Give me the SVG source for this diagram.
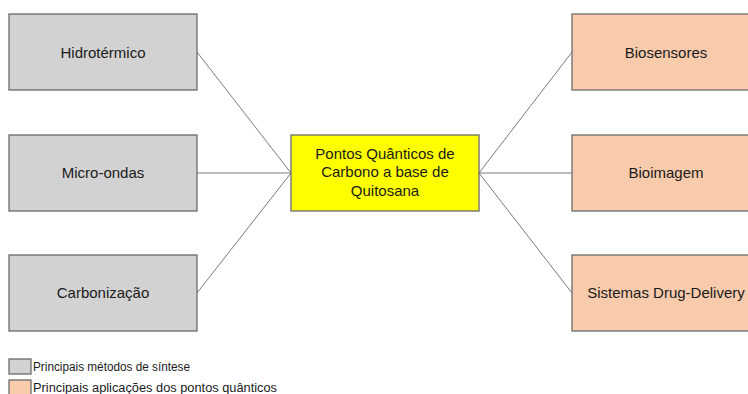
<svg xmlns="http://www.w3.org/2000/svg" width="748" height="394" viewBox="0 0 748 394">
<style>
.box{stroke:#6b6b6b;stroke-width:1.3}
.gray{fill:#d2d2d2}
.orange{fill:#f8cbad}
.yellow{fill:#ffff00}
.lbl{font-family:"Liberation Sans",Arial,sans-serif;font-size:15px;fill:#1a1a1a;text-anchor:middle}
.leg{font-family:"Liberation Sans",Arial,sans-serif;font-size:12px;fill:#1a1a1a}
.conn line{stroke:#7a7a7a;stroke-width:1}
</style>
<rect width="748" height="394" fill="#ffffff"/>
<g id="connectors" class="conn">
<line x1="197" y1="52" x2="291" y2="173"/>
<line x1="197" y1="173" x2="291" y2="173"/>
<line x1="197" y1="293" x2="291" y2="173"/>
<line x1="479" y1="173" x2="572" y2="52"/>
<line x1="479" y1="173" x2="572" y2="173"/>
<line x1="479" y1="173" x2="572" y2="293"/>
</g>
<g id="hidrotermico"><rect class="box gray" x="9" y="14" width="188" height="76"/><text class="lbl" x="103" y="58">Hidrotérmico</text></g>
<g id="microondas"><rect class="box gray" x="9" y="135" width="188" height="76"/><text class="lbl" x="103" y="178">Micro-ondas</text></g>
<g id="carbonizacao"><rect class="box gray" x="9" y="255" width="188" height="76"/><text class="lbl" x="103" y="298">Carbonização</text></g>
<g id="central"><rect class="box yellow" x="291" y="135" width="188" height="76"/>
<text class="lbl" x="385" y="159">Pontos Quânticos de</text>
<text class="lbl" x="385" y="177">Carbono a base de</text>
<text class="lbl" x="385" y="196">Quitosana</text></g>
<g id="biosensores"><rect class="box orange" x="572" y="14" width="190" height="76"/><text class="lbl" x="666" y="58">Biosensores</text></g>
<g id="bioimagem"><rect class="box orange" x="572" y="135" width="190" height="76"/><text class="lbl" x="666" y="178">Bioimagem</text></g>
<g id="drugdelivery"><rect class="box orange" x="572" y="255" width="190" height="76"/><text class="lbl" x="666" y="298">Sistemas Drug-Delivery</text></g>
<g id="legend">
<rect class="box gray" x="9" y="359" width="22" height="15" stroke-width="1"/>
<text class="leg" x="33" y="371" textLength="157" lengthAdjust="spacingAndGlyphs">Principais métodos de síntese</text>
<rect class="box orange" x="9" y="380" width="22" height="15" stroke-width="1"/>
<text class="leg" x="33" y="391.5" textLength="244" lengthAdjust="spacingAndGlyphs">Principais aplicações dos pontos quânticos</text>
</g>
</svg>
